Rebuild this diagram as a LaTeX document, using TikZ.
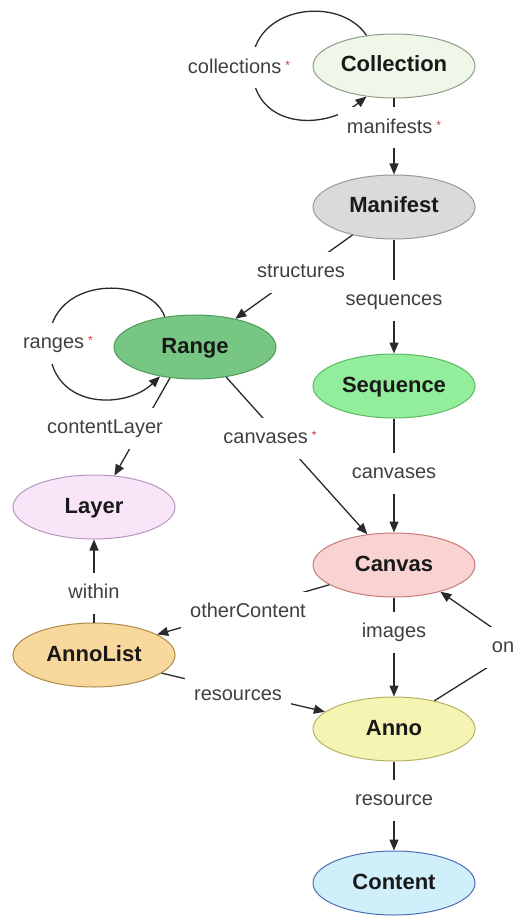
\documentclass[tikz,border=0pt]{standalone}
\usepackage{fontspec}
\setmainfont{Liberation Sans}
\usetikzlibrary{shapes.geometric,arrows.meta}
\definecolor{collfill}{HTML}{EEF7E8}\definecolor{collline}{HTML}{8F9C8A}
\definecolor{manfill}{HTML}{DADADA}\definecolor{manline}{HTML}{999999}
\definecolor{rangefill}{HTML}{78C684}\definecolor{rangeline}{HTML}{4F9A5A}
\definecolor{seqfill}{HTML}{92EE9A}\definecolor{seqline}{HTML}{5DB865}
\definecolor{layerfill}{HTML}{F8E6F8}\definecolor{layerline}{HTML}{B894C0}
\definecolor{canvfill}{HTML}{F9D3D1}\definecolor{canvline}{HTML}{C77A78}
\definecolor{alfill}{HTML}{F8D89D}\definecolor{alline}{HTML}{B08A4D}
\definecolor{annofill}{HTML}{F6F4B2}\definecolor{annoline}{HTML}{B5B262}
\definecolor{contfill}{HTML}{CFEFFA}\definecolor{contline}{HTML}{4F6DB5}
\definecolor{linegrey}{HTML}{2A2A2A}
\definecolor{textgrey}{HTML}{404040}
\definecolor{astred}{HTML}{D23A3A}
\newcommand{\mystar}{\hspace{4pt}\raisebox{4pt}{\fontsize{12}{12}\selectfont\textcolor{astred}{*}}}
\begin{document}
\begin{tikzpicture}[x=1pt,y=-1pt,
  ent/.style={ellipse, draw, line width=1pt, minimum width=162pt, minimum height=64pt,
    inner sep=0pt, text height=15pt, text depth=3pt,
    font=\fontsize{22}{26}\selectfont\bfseries, text=black!90},
  lbl/.style={fill=white, inner xsep=9pt, inner ysep=11pt, text height=15pt, text depth=4pt,
    font=\fontsize{20}{24}\selectfont, text=textgrey},
  conn/.style={line width=1.3pt, draw=linegrey},
  arr/.style={conn, -{Triangle[length=11pt,width=9pt]}}
]
\useasboundingbox (0,0) rectangle (516,917);

% entities
\node[ent, fill=collfill, draw=collline] (coll) at (394,66) {Collection};
\node[ent, fill=manfill, draw=manline] (man) at (394,207) {Manifest};
\node[ent, fill=seqfill, draw=seqline] (seq) at (394,386) {Sequence};
\node[ent, fill=rangefill, draw=rangeline] (range) at (195,347) {Range};
\node[ent, fill=layerfill, draw=layerline] (layer) at (94,507) {Layer};
\node[ent, fill=canvfill, draw=canvline] (canvas) at (394,565) {Canvas};
\node[ent, fill=alfill, draw=alline] (annolist) at (94,655) {AnnoList};
\node[ent, fill=annofill, draw=annoline] (anno) at (394,729) {Anno};
\node[ent, fill=contfill, draw=contline] (content) at (394,883) {Content};

% waypoints
\coordinate (collloop) at (252,66);
\coordinate (rangeloop) at (49,343);
\coordinate (onbend) at (520,647);

% connectors
\draw[arr] (coll.132) .. controls (340,-5) and (252,5) .. (collloop)
  .. controls (252,128) and (322,132) .. (coll.228);
\draw[arr] (coll) -- (man);
\draw[arr] (man.214) -- (range.35);
\draw[arr] (man) -- (seq);
\draw[arr] (range.135) .. controls (150,275) and (49,275) .. (rangeloop)
  .. controls (49,410) and (125,410) .. (range.220);
\draw[arr] (range.231) -- (layer.57);
\draw[arr] (range.-44) -- (canvas.131);
\draw[arr] (seq) -- (canvas);
\draw[arr] (annolist) -- (layer);
\draw[arr] (canvas.197) -- (annolist.18);
\draw[arr] (canvas) -- (anno);
\draw[arr] (annolist.-15) -- (anno.166);
\draw[arr] (anno.35) -- (onbend) -- (canvas.-30);
\draw[arr] (anno) -- (content);

% labels
\node[lbl] (lcolls) at (239,68) {collections\mystar};
\node[lbl] (lmanif) at (394,128) {manifests\mystar};
\node[lbl] (lstruct) at (301,272) {structures};
\node[lbl] (lseq) at (394,300) {sequences};
\node[lbl] (lranges) at (58,343) {ranges\mystar};
\node[lbl] (lclayer) at (105,428) {contentLayer};
\node[lbl] (lcanvs) at (270,438) {canvases\mystar};
\node[lbl] (lcanv) at (394,473) {canvases};
\node[lbl] (lwithin) at (94,593) {within};
\node[lbl] (lother) at (248,612) {otherContent};
\node[lbl] (limages) at (394,632) {images};
\node[lbl, inner xsep=7pt] (lon) at (503,647) {on};
\node[lbl] (lres) at (238,695) {resources};
\node[lbl] (lresource) at (394,800) {resource};
\end{tikzpicture}
\end{document}
